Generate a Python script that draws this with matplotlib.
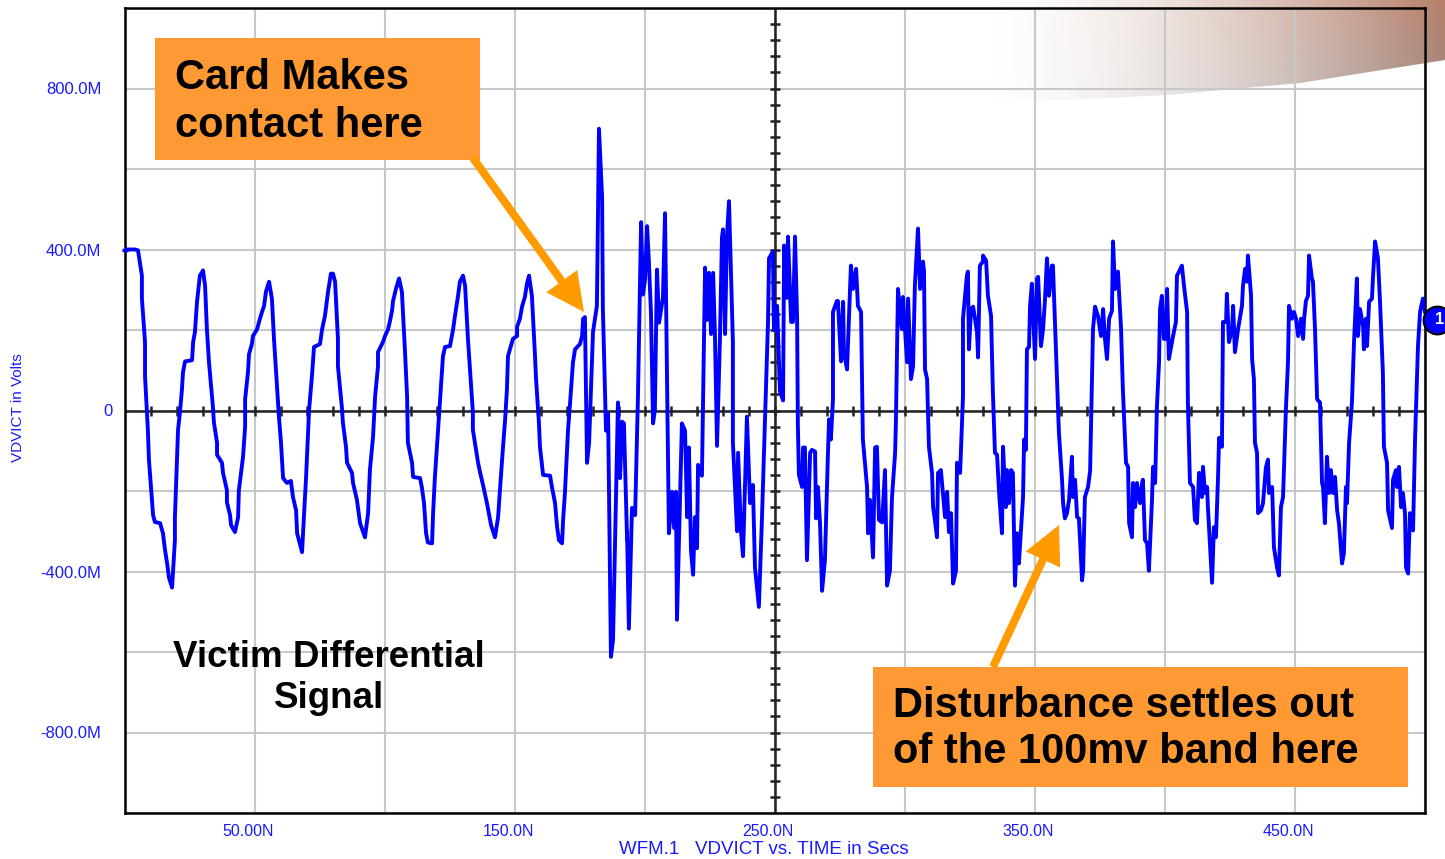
import numpy as np
import matplotlib.pyplot as plt
from matplotlib.patches import Rectangle, FancyArrow, Polygon
from matplotlib.ticker import MultipleLocator
from matplotlib.transforms import ScaledTranslation

plt.rcParams['font.family'] = ['Liberation Sans', 'DejaVu Sans']

# VDVICT waveform, time in ns, voltage in mV
# before the card makes contact
t_pre = [0, 3.8, 5.0, 6.5, 6.5, 7.7, 7.7, 8.8, 9.2, 10.8, 11.5, 13.5, 14.6, 15.4, 16.2, 16.9, 18.1, 19.2, 19.2,
         20.4, 21.2, 21.9, 22.3, 23.1, 25.8, 26.2, 26.9, 27.7, 28.8, 30.0, 30.8, 31.5, 32.3, 33.8, 34.2, 35.4,
         35.4, 37.3, 37.7, 39.2, 39.2, 40.4, 40.8, 42.3, 43.5, 43.8, 45.4, 46.2, 46.2, 47.3, 47.7, 48.8, 49.2,
         50.8, 51.9, 52.7, 53.5, 54.2, 55.4, 56.5, 57.3, 58.1, 59.2, 60.0, 60.8, 62.3, 63.8, 64.6, 65.8, 66.2,
         68.1, 68.8, 69.6, 70.8, 71.9, 72.7, 75.0, 75.8, 76.9, 78.1, 79.2, 80.0, 80.8, 81.9, 81.9, 83.5, 83.8,
         85.0, 85.4, 87.3, 87.7, 89.2, 90.4, 92.3, 93.5, 94.2, 95.4, 96.2, 97.3, 97.3, 99.2, 100.0, 101.2, 101.9,
         102.7, 103.1, 104.2, 105.4, 106.5, 107.7, 108.5, 108.8, 110.4, 110.8, 113.5, 114.2, 115.0, 115.8, 116.5,
         118.1, 118.5, 119.2, 120.4, 121.2, 122.3, 123.1, 125.0, 126.2, 126.9, 128.1, 128.8, 130.0, 130.8, 131.9,
         132.7, 133.8, 133.8, 135.8, 136.5, 137.7, 139.2, 140.8, 142.3, 143.5, 144.2, 145.4, 146.2, 146.9, 147.3,
         149.2, 150.8, 150.8, 151.9, 152.7, 153.8, 154.6, 155.4, 156.5, 157.7, 158.1, 159.2, 159.6, 160.8, 163.5,
         164.2, 165.4, 166.2, 166.9, 168.1, 168.5, 169.2, 170.4, 171.2, 172.3, 173.1, 175.0, 175.8, 176.2, 176.9,
         177.7, 178.5, 179.2, 180.0]
v_pre = [400, 400, 398, 335, 278, 170, 85, -48, -122, -260, -277, -280, -305, -347, -380, -415, -440, -322, -265,
         -48, 0, 52, 95, 122, 125, 170, 195, 270, 335, 348, 310, 202, 120, 10, -30, -80,
         -110, -130, -155, -198, -228, -260, -285, -302, -265, -198, -115, -40, 28, 95, 140, 165, 185,
         202, 228, 245, 260, 295, 320, 278, 178, 95, -15, -80, -168, -180, -175, -215, -248, -305,
         -352, -265, -172, 2, 85, 158, 165, 202, 235, 295, 340, 340, 320, 178, 110, 2, -30,
         -90, -130, -155, -180, -222, -280, -315, -255, -148, -65, 35, 110, 145, 170, 185, 202, 222,
         248, 272, 302, 328, 295, 145, 35, -80, -130, -165, -168, -192, -230, -305, -328,
         -330, -255, -165, -48, 28, 135, 158, 160, 202, 235, 285, 320, 335, 310, 178,
         102, -5, -48, -130, -152, -185, -230, -285, -315, -265, -198, -90, -22, 52, 135,
         178, 185, 208, 228, 258, 282, 315, 335, 285, 135, 78, -30, -90, -160, -162,
         -190, -230, -290, -322, -330, -272, -205, -48, 20, 120, 152, 165, 185, 228, 232,
         -130, -80, 50, 195]

# disturbance right after contact
t_burst = [181.5, 182.3, 183.5, 183.8, 185.0, 185.8, 186.9, 187.7, 188.5, 189.6, 190.4, 191.2, 191.9, 193.1,
           193.1, 193.8, 195.0, 196.2, 197.3, 198.5, 199.2, 200.0, 200.8, 201.5, 202.3, 203.1, 203.8, 204.6,
           205.4, 206.9, 207.7, 208.5, 209.2, 210.4, 211.2, 211.9, 212.3, 214.2, 215.4, 216.2, 216.9, 217.7,
           218.5, 219.2, 220.0, 220.4, 221.9, 223.1, 223.8, 224.6, 225.4, 226.2, 226.9, 227.7, 228.8, 229.6,
           230.0, 230.8, 231.5, 232.3, 233.8, 233.8, 235.4, 235.8, 236.9, 237.7, 239.2, 240.4, 241.5, 242.3,
           243.8, 245.0, 246.2, 247.3, 247.7, 249.2, 249.6, 250.8, 251.5, 251.9, 253.1, 253.5, 254.6, 255.0,
           256.2, 256.9, 257.7, 258.5, 258.8, 259.2]
v_burst = [260, 700, 530, 252, -50, -8, -612, -570, -320, 20, -168, -28, -32, -320,
           -300, -542, -242, -260, 38, 468, 288, 325, 458, 368, 242, -32, 2, 350,
           218, 280, 490, 55, -305, -202, -292, -202, -520, -32, -50, -265, -92, -350,
           -408, -265, -342, -135, -162, 355, 225, 342, 190, 342, 190, -88, 172, 430,
           450, 190, 430, 520, 172, -78, -300, -105, -300, -362, -15, -230, -185, -390,
           -488, -265, -15, 218, 378, 395, 200, 260, 128, 48, 25, 410, 280, 432,
           220, 220, 432, 228, -40, -160]

# settling part
t_settle = [260.4, 260.8, 261.5, 262.3, 263.5, 264.2, 265.4, 265.8, 266.5, 267.3, 268.1, 269.2, 270.4, 270.8,
            271.5, 272.3, 272.3, 273.8, 274.2, 275.4, 276.2, 276.5, 277.7, 279.2, 280.0, 281.2, 281.9, 283.1,
            283.8, 285.4, 285.8, 286.5, 287.7, 288.5, 289.2, 290.0, 291.2, 292.3, 293.1, 294.2, 295.0, 296.2,
            296.5, 297.3, 298.8, 299.2, 300.8, 301.2, 302.3, 303.1, 303.8, 305.0, 305.8, 306.9, 307.3, 307.7,
            308.5, 309.2, 310.4, 310.8, 311.5, 312.3, 312.7, 313.8, 314.6, 315.4, 316.2, 316.9, 317.7, 318.5,
            319.6, 320.0, 321.2, 322.3, 322.3, 323.8, 324.2, 324.6, 325.4, 326.2, 327.7, 328.1, 328.8, 330.0,
            330.0, 331.2, 331.9, 333.1, 333.8, 334.6, 335.4, 336.2, 337.3, 337.7, 338.8, 339.2, 340.0, 340.8,
            341.5, 342.3, 343.1, 343.8, 345.4, 345.8, 346.5, 346.9, 347.7, 348.1, 348.8, 350.0, 350.8, 351.2,
            352.3, 353.1, 353.8, 354.6, 355.4, 356.5, 356.9, 358.1, 359.2, 360.4, 360.8, 361.5, 362.3, 363.1,
            364.2, 364.6, 365.4, 366.2, 366.9, 368.1, 368.5, 369.2, 370.4, 371.2, 372.3, 373.1, 374.2, 375.4,
            376.2, 376.9, 377.7, 378.5, 379.6, 380.0, 380.8, 381.9, 383.1, 383.5, 383.8, 385.0, 385.8, 386.2,
            387.3, 387.7, 388.5, 389.2, 390.4, 391.2, 391.5, 392.3, 393.1, 393.8, 395.0, 395.4, 396.2, 396.9,
            397.7, 398.1, 398.8, 399.6, 400.4, 400.8, 401.5, 402.7, 403.1, 404.2, 404.6, 405.4, 406.5, 407.3,
            408.5, 408.8, 409.6, 410.8, 411.5, 412.3, 413.1, 414.2, 414.6, 415.4, 416.2, 416.5, 418.1, 418.8,
            419.6, 420.4, 420.8, 421.9, 422.3, 423.5, 423.8, 424.6, 425.8, 426.2, 426.9, 428.1, 429.6, 430.0,
            430.8, 431.5, 431.9, 433.1, 433.5, 434.2, 434.6, 435.4, 435.8, 436.9, 437.7, 438.8, 439.6, 440.0,
            441.2, 441.9, 443.1, 443.8, 444.6, 445.4, 446.5, 447.3, 447.7, 448.8, 449.6, 450.4, 451.2, 452.3,
            453.1, 453.5, 454.2, 455.0, 455.4, 456.5, 456.9, 457.7, 458.5, 459.6, 460.4, 460.8, 461.5, 462.3,
            463.1, 463.8, 464.6, 465.4, 466.2, 466.9, 468.1, 468.8, 469.6, 470.0, 470.8, 471.9, 472.7, 473.8,
            474.2, 475.0, 476.2, 476.5, 477.3, 477.7, 478.5, 479.6, 480.0, 480.8, 481.9, 482.7, 483.8, 484.2,
            485.4, 485.8, 487.3, 487.7, 488.8, 489.2, 490.0, 490.8, 491.5, 492.3, 492.7, 493.5, 494.2, 495.4,
            496.2, 497.3, 498.1, 499.2, 500.0]
v_settle = [-190, -92, -92, -372, -105, -98, -102, -268, -190, -278, -448, -372, -98, -22,
            -72, 28, 245, 272, 272, 122, 270, 145, 102, 360, 302, 352, 260, 245,
            -72, -190, -305, -222, -365, -92, -90, -272, -278, -148, -435, -398, -215, -105,
            -30, 302, 202, 282, 120, 278, 78, 110, 310, 452, 302, 370, 348, 102,
            78, -90, -155, -240, -272, -315, -155, -148, -205, -265, -202, -302, -255, -430,
            -398, -130, -155, 35, 228, 335, 345, 152, 252, 258, 195, 132, 360, 370,
            385, 372, 285, 235, 45, -105, -110, -205, -305, -90, -240, -148, -230, -148,
            -155, -435, -305, -380, -215, -72, -98, 152, 158, 260, 315, 128, 328, 332,
            160, 202, 270, 378, 285, 360, 360, 145, -55, -172, -230, -268, -255, -222,
            -115, -215, -172, -265, -268, -422, -398, -215, -190, -150, 202, 258, 235, 185,
            252, 178, 128, 228, 248, 420, 302, 345, 202, 120, 52, -130, -140, -280,
            -315, -180, -240, -180, -230, -180, -172, -322, -330, -398, -222, -140, -180, 10,
            120, 252, 285, 178, 178, 302, 128, 170, 185, 220, 335, 345, 360, 310,
            245, 20, -180, -190, -272, -280, -155, -215, -140, -205, -190, -240, -428, -290,
            -315, -165, -68, -90, 220, 220, 290, 170, 202, 260, 145, 202, 260, 310,
            352, 320, 385, 285, 128, 78, -80, -105, -255, -248, -230, -142, -122, -205,
            -190, -340, -390, -410, -240, -215, 2, 120, 260, 228, 245, 228, 185, 228,
            178, 228, 272, 285, 385, 328, 320, 202, 28, 20, -180, -190, -280, -115,
            -205, -148, -205, -165, -248, -280, -380, -355, -190, -230, -80, 20, 170, 328,
            185, 252, 210, 152, 228, 160, 270, 278, 332, 420, 378, 270, 95, -90,
            -130, -248, -292, -172, -148, -190, -140, -240, -205, -255, -390, -405, -255, -298,
            -65, 160, 245, 278, 245]

x_labels = ['50.00N', '150.0N', '250.0N', '350.0N', '450.0N']
x_label_pos = [50, 150, 250, 350, 450]
y_labels = ['-800.0M', '-400.0M', '0', '400.0M', '800.0M']
y_label_pos = [-800, -400, 0, 400, 800]

t = np.array(t_pre + t_burst + t_settle)
v = np.array(v_pre + v_burst + v_settle)

W, H = 1445, 859
fig = plt.figure(figsize=(W / 100, H / 100), dpi=100)
fig.patch.set_facecolor('white')

# slide decoration in the top right corner
bg = fig.add_axes([0, 0, 1, 1], zorder=0)
bg.axis('off')
gw, gh = 470, 120
gx = np.linspace(0, 1, gw)[None, :]
gy = np.linspace(0, 1, gh)[:, None]
top_c = np.array([0.70, 0.47, 0.38])
bot_c = np.array([0.58, 0.52, 0.50])
img = np.zeros((gh, gw, 4))
for k in range(3):
    img[..., k] = top_c[k] * (1 - gy) + bot_c[k] * gy
img[..., 3] = gx ** 1.6 * 0.95
im = bg.imshow(img, extent=[975, 1445, 120, 0], aspect='auto', interpolation='bilinear')
swoosh = Polygon([(960, 0), (1445, 0), (1445, 60), (1300, 83), (1167, 95), (1067, 100), (960, 102)],
                 closed=True, transform=bg.transData, fc='none', ec='none')
bg.add_patch(swoosh)
im.set_clip_path(swoosh)
bg.set_xlim(0, W)
bg.set_ylim(H, 0)

# main plot
ax = fig.add_axes([125 / W, (H - 813) / H, 1300 / W, 805 / H], zorder=1)
ax.patch.set_alpha(0)
ax.set_xlim(0, 500)
ax.set_ylim(-1000, 1000)

ax.xaxis.set_minor_locator(MultipleLocator(50))
ax.yaxis.set_minor_locator(MultipleLocator(200))
ax.set_xticks(x_label_pos)
ax.set_xticklabels(x_labels)
ax.set_yticks(y_label_pos)
ax.set_yticklabels(y_labels)
ax.grid(True, which='both', color='#c6cac6', lw=1.5)
ax.set_axisbelow(True)
ax.tick_params(which='both', length=0)
ax.tick_params(axis='x', colors='#1a1aff', labelsize=11.5, pad=8)
ax.tick_params(axis='y', colors='#1a1aff', labelsize=12, pad=17)
for s in ax.spines.values():
    s.set_color('black')
    s.set_linewidth(1.8)

# small nudges so the labels sit like the scope's
for lab in ax.get_xticklabels():
    lab.set_transform(lab.get_transform() + ScaledTranslation(-0.07, 0, fig.dpi_scale_trans))
zero_lab = ax.get_yticklabels()[2]
zero_lab.set_transform(zero_lab.get_transform() + ScaledTranslation(0.11, 0, fig.dpi_scale_trans))

# center crosshair with its small ticks
ax.axhline(0, color='#222222', lw=1.8, zorder=2)
ax.axvline(250, color='#222222', lw=1.8, zorder=2)
xt = np.arange(10, 500, 10)
ax.plot(xt, np.zeros_like(xt), ls='none', marker='|', ms=7, mew=1.8, color='#222222', zorder=2)
yt = np.arange(-960, 1000, 40)
ax.plot(np.full_like(yt, 250), yt, ls='none', marker='_', ms=7, mew=1.8, color='#222222', zorder=2)

ax.plot(t, v, color='#0000ff', lw=2.8, zorder=3)

# trace markers on the frame
ax.plot([0], [400], marker='_', ms=4, mew=2.5, color='#0000ff', clip_on=False, zorder=4)
ax.plot([504.5], [225], marker='o', ms=20, mfc='#0000ff', mec='black', mew=1.5, clip_on=False, zorder=4)
ax.text(505.5, 225, '1', color='white', fontsize=12, fontweight='bold', ha='center', va='center',
        clip_on=False, zorder=5)

fig.text(18 / W, 1 - 408 / H, 'VDVICT in Volts', rotation=90, color='#1a1aff', fontsize=11,
         ha='center', va='center')
fig.text(764 / W, 1 - 849 / H, 'WFM.1   VDVICT vs. TIME in Secs', color='#1a1aff', fontsize=13.5,
         ha='center', va='center')

# callouts
ov = fig.add_axes([0, 0, 1, 1], zorder=5)
ov.axis('off')
ov.set_xlim(0, W)
ov.set_ylim(H, 0)
box_c = '#ff9933'
arrow_c = '#ff9a00'
ov.add_patch(Rectangle((155, 38), 325, 122, fc=box_c, ec='none'))
ov.add_patch(Rectangle((873, 667), 535, 120, fc=box_c, ec='none'))
ov.add_patch(FancyArrow(473, 158, 584 - 473, 312 - 158, width=8, head_width=38, head_length=38,
                        length_includes_head=True, color=arrow_c, lw=0))
ov.add_patch(FancyArrow(993, 667, 1059 - 993, 525 - 667, width=8, head_width=38, head_length=38,
                        length_includes_head=True, color=arrow_c, lw=0))
ov.text(175, 102, 'Card Makes\ncontact here', fontsize=30, fontweight='bold', ha='left', va='center',
        linespacing=1.25)
ov.text(893, 729, 'Disturbance settles out\nof the 100mv band here', fontsize=30, fontweight='bold',
        ha='left', va='center', linespacing=1.2)
ov.text(329, 678, 'Victim Differential\nSignal', fontsize=26.5, fontweight='bold', ha='center',
        va='center', multialignment='center', linespacing=1.2)

fig.savefig('out.png', dpi=100)
